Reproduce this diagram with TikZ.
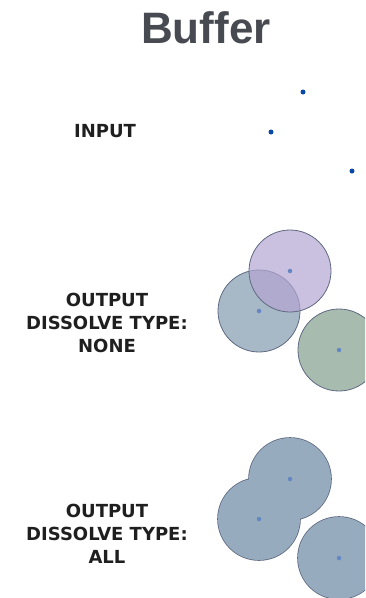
\documentclass[tikz,border=0pt]{standalone}
\usepackage{fontspec}
\setmainfont{DejaVu Sans}
\newfontfamily\titlefont{Liberation Sans}
\usepackage{tikz}

\definecolor{titlegray}{RGB}{71,74,80}
\definecolor{ptblue}{RGB}{10,72,168}
\definecolor{ctrblue}{RGB}{100,135,195}
\definecolor{bufpurple}{RGB}{180,165,210}
\definecolor{bufblue}{RGB}{130,155,175}
\definecolor{bufgreen}{RGB}{130,160,140}
\definecolor{bufedge}{RGB}{95,105,130}
\definecolor{bufall}{RGB}{150,171,189}

\begin{document}
\begin{tikzpicture}[x=1pt,y=-1pt,
    lbl/.style={font=\bfseries\fontsize{18}{23}\selectfont, align=center, text=black!88},
    pt/.style={circle, fill=ptblue, inner sep=0pt, minimum size=5pt},
    ctr/.style={circle, fill=ctrblue, inner sep=0pt, minimum size=4.5pt},
    buf/.style={circle, draw=bufedge, line width=0.8pt, fill opacity=0.7, inner sep=0pt, minimum size=82pt}]
  \useasboundingbox (0,0) rectangle (365,598);
  \clip (0,0) rectangle (365,598);

  \node[font=\titlefont\bfseries\fontsize{44}{44}\selectfont, text=titlegray] (title) at (206,28) {Buffer};

  \node[lbl] (input) at (105,131) {INPUT};
  \node[lbl] (none) at (107,323) {OUTPUT\\DISSOLVE TYPE:\\NONE};
  \node[lbl] (all) at (107,534) {OUTPUT\\DISSOLVE TYPE:\\ALL};

  % input points
  \node[pt] (p1) at (303,92) {};
  \node[pt] (p2) at (271,132) {};
  \node[pt] (p3) at (352,171) {};

  % buffers, not dissolved
  \node[buf, fill=bufblue] (n2) at (259,311) {};
  \node[buf, fill=bufpurple] (n1) at (290,271) {};
  \node[buf, fill=bufgreen] (n3) at (339,350) {};
  \foreach \c in {n1,n2,n3}
    \node[ctr] at (\c.center) {};

  % buffers, dissolved: outlines first, fills on top
  \foreach \p in {{290,479}, {259,519}, {339,558}}
    \node[circle, draw=bufedge, line width=1.6pt, inner sep=0pt, minimum size=82pt] at (\p) {};
  \node[circle, fill=bufall, inner sep=0pt, minimum size=82pt] (a1) at (290,479) {};
  \node[circle, fill=bufall, inner sep=0pt, minimum size=82pt] (a2) at (259,519) {};
  \node[circle, fill=bufall, inner sep=0pt, minimum size=82pt] (a3) at (339,558) {};
  \foreach \c in {a1,a2,a3}
    \node[ctr] at (\c.center) {};
\end{tikzpicture}
\end{document}
